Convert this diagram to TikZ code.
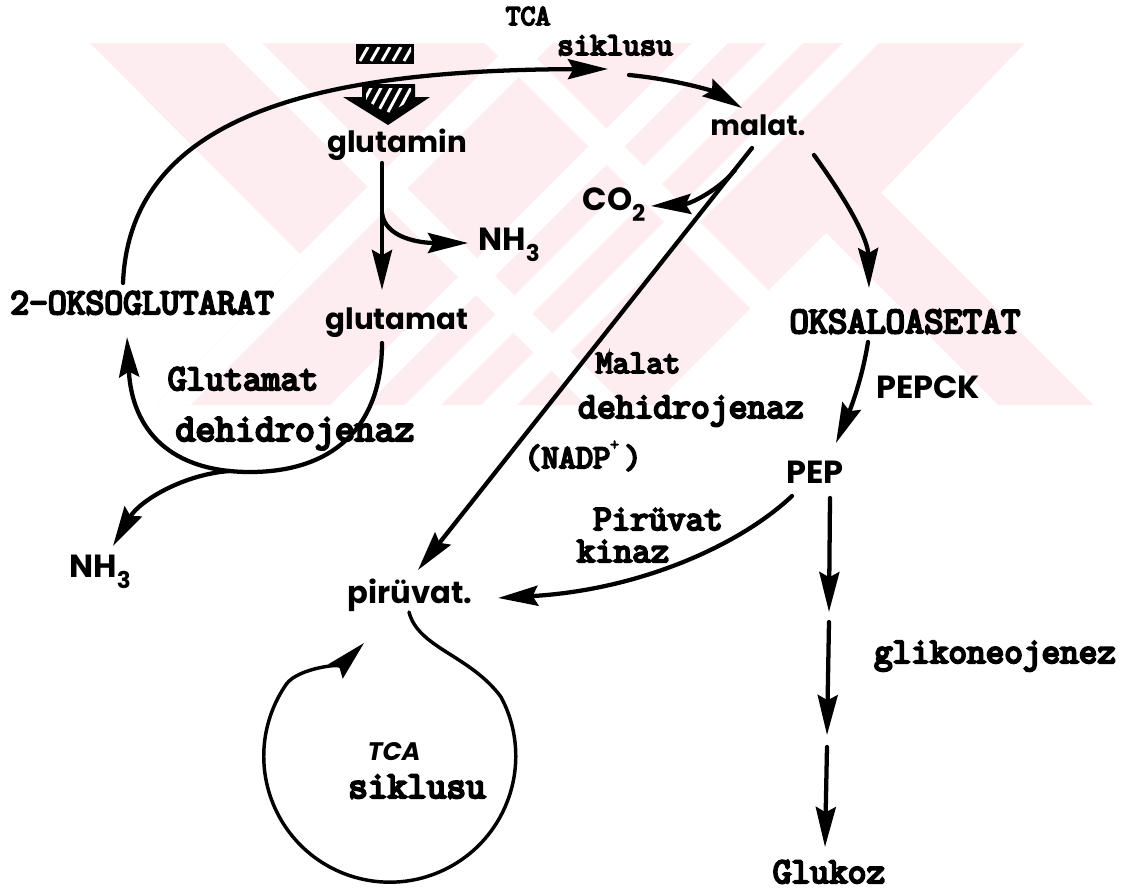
\documentclass[tikz,border=0pt]{standalone}
\usepackage{fontspec}
\setmonofont[FakeBold=6]{Latin Modern Mono}
\newfontfamily\handfont{Poppins}
\usetikzlibrary{arrows.meta}
\definecolor{wmpink}{RGB}{253,236,240}
\newcommand\lowidx[1]{\raisebox{-0.35em}{\scalebox{0.72}{#1}}}
\newcommand\highidx[1]{\raisebox{0.55em}{\scalebox{0.5}{#1}}}

\begin{document}
\begin{tikzpicture}[x=0.75pt,y=-0.75pt,
  ink/.style={line width=3.2pt, line cap=round},
  thinink/.style={line width=2.6pt, line cap=round},
  tip/.style={-{Stealth[length=30pt,width=15pt,inset=4pt]}},
  arr/.style={ink, tip},
  tw/.style={font=\ttfamily\fontsize{#1}{#1}\selectfont, inner sep=0pt, anchor=base},
  hand/.style={font=\handfont\bfseries\fontsize{#1}{#1}\selectfont, inner sep=0pt, anchor=base},
]
\useasboundingbox (0,0) rectangle (1133,889);
\fill[white] (0,0) rectangle (1133,889);

% background emblem: pale diagonal bands
\begin{scope}
  \fill[wmpink] (90,43) -- (1025,43) -- (881,193) -- (1093,405) -- (155,405) -- (303,257) -- cycle;
  \clip (90,43) -- (1025,43) -- (881,193) -- (1093,405) -- (155,405) -- (303,257) -- cycle;
  \draw[white, line width=20pt] (180,-20) -- (700,500);
  \draw[white, line width=22pt] (595,-20) -- (95,480);
  \draw[white, line width=19pt] (440,-20) -- (960,500);
  \draw[white, line width=19pt] (773,-20) -- (253,500);
  \draw[white, line width=19pt] (848,-20) -- (328,500);
  \draw[white, line width=19pt] (924,-20) -- (404,500);
  \fill[white] (826,233) -- (654,405) -- (998,405) -- cycle;
\end{scope}

% hatched block and hatched down arrow above glutamin
\fill[black] (356,44) rectangle (414,64);
\begin{scope}
  \clip (359,47) rectangle (411,61);
  \foreach \i in {0,...,4}
    \draw[white, line width=2.2pt] ({360+\i*11},61) -- ({368+\i*11},47);
\end{scope}
\fill[black] (362,84) -- (415,84) -- (415,97) -- (430,97) -- (388,125) -- (343,97) -- (362,97) -- cycle;
\begin{scope}
  \clip (366,88) -- (411,88) -- (411,100) -- (388,114) -- (366,100) -- cycle;
  \foreach \i in {0,...,5}
    \draw[white, line width=2.2pt] ({358+\i*10},112) -- ({372+\i*10},86);
\end{scope}

% labels
\node[tw=21.7] (tcatop) at (528,25) {TCA};
\node[tw=24] (siktop) at (615,55) {siklusu};
\node[hand=22] (glutamin) at (397,152) {glutamin};
\node[hand=22] (glutamat) at (397,329) {glutamat};
\node[hand=24] (nhtop) at (509,250) {NH\lowidx{3}};
\node[tw=27.4] (okso) at (142,314) {2-OKSOGLUTARAT};
\node[tw=27.4] (glutdh) at (243,390) {Glutamat};
\node[tw=29] (glutdh2) at (295,441) {dehidrojenaz};
\node[hand=24] (nhbot) at (100,577) {NH\lowidx{3}};
\node[hand=21] (malat) at (758,135) {malat.};
\node[hand=24] (co2) at (614,210) {CO\lowidx{2}};
\node[tw=28] (oksalo) at (905,333) {OKSALOASETAT};
\node[hand=24] (pepck) at (928,398) {PEPCK};
\node[hand=24] (pep) at (815,483) {PEP};
\node[tw=24.6] (mdh1) at (638,373) {Malat};
\node[tw=27.4] (mdh2) at (691,418) {dehidrojenaz};
\node[tw=25] (nadp) at (583,468) {(NADP\highidx{+}\,)};
\node[tw=26.9] (pk1) at (658,530) {Pirüvat};
\node[tw=26.9] (pk2) at (623,562) {kinaz};
\node[hand=23] (piruvat) at (410,603) {pirüvat.};
\node[font=\handfont\bfseries\itshape\fontsize{19}{19}\selectfont, inner sep=0pt, anchor=base] (tcabot) at (394,760) {TCA};
\node[tw=28.6] (sikbot) at (417,798) {siklusu};
\node[tw=27.1] (gneo) at (995,663) {glikoneojenez};
\node[tw=27.3] (glukoz) at (829,883) {Glukoz};

% connector end points
\coordinate (oksoTop) at (123,283);
\coordinate (sikIn) at (608,69);
\coordinate (sikOut) at (629,75);
\coordinate (malatIn) at (742,108);
\coordinate (gmnOut) at (382,163);
\coordinate (gmtIn) at (382,290);
\coordinate (nhFork) at (382,213);
\coordinate (nhIn) at (468,243);
\coordinate (gmtOut) at (382,343);
\coordinate (loopLow) at (250,472);
\coordinate (oksoIn) at (127,337);
\coordinate (nhbIn) at (113,546);
\coordinate (malatOutA) at (752,148);
\coordinate (piruvatInA) at (418,570);
\coordinate (coFork) at (735,170);
\coordinate (coIn) at (651,206);
\coordinate (malatOutB) at (814,155);
\coordinate (oksaloIn) at (869,288);
\coordinate (oksaloOut) at (868,342);
\coordinate (pepIn) at (836,443);
\coordinate (pepOutA) at (792,496);
\coordinate (piruvatInB) at (498,598);
\coordinate (pepOutB) at (830,498);
\coordinate (g1) at (829,612);
\coordinate (g2) at (829,622);
\coordinate (g3) at (827,735);
\coordinate (g4) at (827,747);
\coordinate (glukozIn) at (825,847);
\coordinate (piruvatOut) at (409,612);
\coordinate (cycJoin) at (501,697);
\coordinate (piruvatInC) at (364,643);

% glutamine branch
\draw[arr] (oksoTop) .. controls (130,110) and (330,70) .. (sikIn);
\draw[arr] (sikOut) .. controls (680,80) and (715,92) .. (malatIn);
\draw[arr] (gmnOut) -- (gmtIn);
\draw[arr] (nhFork) .. controls (385,238) and (420,243) .. (nhIn);
\draw[arr] (gmtOut) .. controls (382,430) and (330,472) .. (loopLow)
            .. controls (170,472) and (132,430) .. (oksoIn);
\draw[arr] (230,471) .. controls (185,474) and (140,500) .. (nhbIn);

% malate branch
\draw[arr] (malatOutA) -- (piruvatInA);
\draw[arr] (coFork) .. controls (719,190) and (690,204) .. (coIn);
\draw[arr] (malatOutB) .. controls (850,205) and (868,240) .. (oksaloIn);
\draw[arr] (oksaloOut) .. controls (862,380) and (850,410) .. (pepIn);
\draw[arr] (pepOutA) .. controls (740,545) and (640,590) .. (piruvatInB);

% gluconeogenesis steps
\draw[arr] (pepOutB) -- (g1);
\draw[arr] (g2) -- (g3);
\draw[arr] (g4) -- (glukozIn);

% pyruvate into the TCA cycle
\draw[thinink, tip] (piruvatOut) .. controls (418,648) and (470,655) .. (cycJoin)
   arc[start angle=-28, end angle=215, radius=126]
   .. controls (298.5,667.6) and (344,663) .. (piruvatInC);
\end{tikzpicture}
\end{document}
